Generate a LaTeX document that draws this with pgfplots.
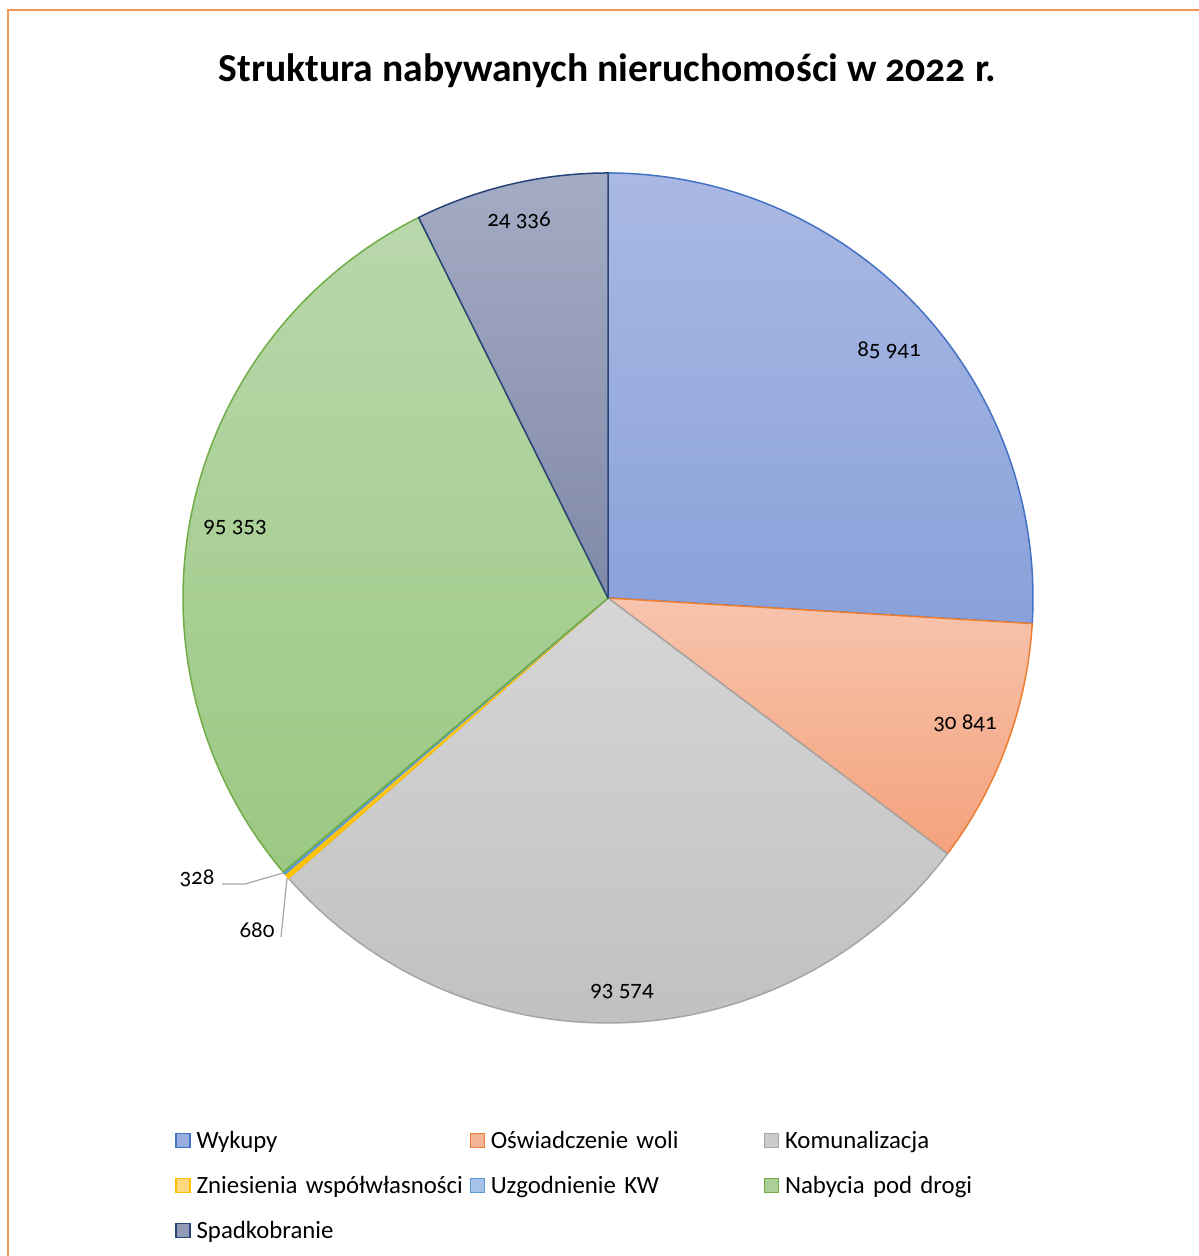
\documentclass[border=0pt]{standalone}
\usepackage{fontspec}
\setmainfont{Carlito}[Numbers=OldStyle]
\usepackage{pgfplots}
\usepackage{pgfplotstable}
\pgfplotsset{compat=1.18}

% values of the pie (in thousands, to stay inside pgfmath range)
\pgfplotstableread[col sep=comma]{
name,value
Wykupy,85.941
Oświadczenie woli,30.841
Komunalizacja,93.574
Zniesienia współwłasności,0.680
Uzgodnienie KW,0.328
Nabycia pod drogi,95.353
Spadkobranie,24.336
}\piedata

\definecolor{topA}{RGB}{170,185,227}\definecolor{botA}{RGB}{137,161,218}\definecolor{edgA}{RGB}{68,114,196}
\definecolor{topB}{RGB}{247,196,174}\definecolor{botB}{RGB}{244,162,124}\definecolor{edgB}{RGB}{237,125,49}
\definecolor{topC}{RGB}{214,214,214}\definecolor{botC}{RGB}{192,192,192}\definecolor{edgC}{RGB}{165,165,165}
\definecolor{topD}{RGB}{255,217,130}\definecolor{botD}{RGB}{255,192,0}\definecolor{edgD}{RGB}{255,192,0}
\definecolor{topE}{RGB}{165,195,233}\definecolor{botE}{RGB}{91,155,213}\definecolor{edgE}{RGB}{91,155,213}
\definecolor{topF}{RGB}{185,215,171}\definecolor{botF}{RGB}{155,200,131}\definecolor{edgF}{RGB}{112,173,71}
\definecolor{topG}{RGB}{164,171,196}\definecolor{botG}{RGB}{128,137,168}\definecolor{edgG}{RGB}{38,68,120}
\definecolor{frame}{RGB}{243,150,82}
\definecolor{leader}{RGB}{166,166,166}

\tikzset{
  slice0/.style={top color=topA,bottom color=botA,draw=edgA},
  slice1/.style={top color=topB,bottom color=botB,draw=edgB},
  slice2/.style={top color=topC,bottom color=botC,draw=edgC},
  slice3/.style={top color=topD,bottom color=botD,draw=edgD},
  slice4/.style={top color=topE,bottom color=botE,draw=edgE},
  slice5/.style={top color=topF,bottom color=botF,draw=edgF},
  slice6/.style={top color=topG,bottom color=botG,draw=edgG},
}

% cumulative angles, clockwise from the top
\def\total{0}
\pgfplotsforeachungrouped \i in {0,...,6}{%
  \pgfplotstablegetelem{\i}{value}\of\piedata
  \pgfmathsetmacro{\total}{\total+\pgfplotsretval}%
}
\def\cum{0}
\pgfplotsforeachungrouped \i in {0,...,6}{%
  \pgfplotstablegetelem{\i}{value}\of\piedata
  \pgfmathsetmacro{\aS}{90-360*(\cum/\total)}%
  \pgfmathsetmacro{\cum}{\cum+\pgfplotsretval}%
  \pgfmathsetmacro{\aE}{90-360*(\cum/\total)}%
  \expandafter\xdef\csname pieS\i\endcsname{\aS}%
  \expandafter\xdef\csname pieE\i\endcsname{\aE}%
}

\newcommand\lbl{\fontsize{11.5}{13}\selectfont}
\newcommand\leg{\fontsize{12.4}{14}\selectfont}

\begin{document}
\begin{tikzpicture}
\begin{axis}[
  scale only axis, width=599pt, height=628pt,
  xmin=0, xmax=1198, ymin=-1256, ymax=0,
  hide axis, clip=false,
  legend columns=3,
  legend image code/.code={\draw[#1,line width=0.6pt] (0pt,0.5pt) rectangle (7pt,7.5pt);},
  legend style={draw=none, fill=none, inner sep=0pt, font=\leg,
    at={(axis cs:175,-1131)}, anchor=north west,
    row sep=10.5pt,
    /tikz/every even column/.style={column sep=0pt},
    /tikz/every odd column/.style={column sep=0pt},
    nodes={text width=133.5pt, align=left, inner xsep=3pt, inner ysep=0pt,
           text height=8.5pt, text depth=3.5pt, anchor=base west}},
]
\pgfplotsinvokeforeach{0,...,6}{
  \path[slice#1, line width=0.75pt, line join=round]
    (axis cs:608,-598) -- ++(\csname pieS#1\endcsname:212.5pt)
    arc[start angle=\csname pieS#1\endcsname, end angle=\csname pieE#1\endcsname, radius=212.5pt]
    -- cycle;
}
% leader lines of the two smallest slices
\addplot[leader, line width=0.6pt, forget plot] coordinates {(222,-884) (245,-884) (283,-873)};
\addplot[leader, line width=0.6pt, forget plot] coordinates {(281,-937) (287,-878)};

\addlegendimage{fill=topA!50!botA, draw=edgA}\addlegendentry{Wykupy}
\addlegendimage{fill=topB!50!botB, draw=edgB}\addlegendentry{Oświadczenie woli}
\addlegendimage{fill=topC!50!botC, draw=edgC}\addlegendentry{Komunalizacja}
\addlegendimage{fill=topD, draw=edgD}\addlegendentry{Zniesienia współwłasności}
\addlegendimage{fill=topE, draw=edgE}\addlegendentry{Uzgodnienie KW}
\addlegendimage{fill=topF!50!botF, draw=edgF}\addlegendentry{Nabycia pod drogi}
\addlegendimage{fill=topG!50!botG, draw=edgG}\addlegendentry{Spadkobranie}

\begin{scope}[every node/.style={font=\lbl, inner sep=0pt}]
\node at (axis cs:889,-350) {85 941};
\node at (axis cs:965,-723) {30 841};
\node at (axis cs:622,-992) {93 574};
\node at (axis cs:235,-528) {95 353};
\node at (axis cs:519,-220) {24 336};
\node at (axis cs:197,-878) {328};
\node at (axis cs:257,-930) {680};
\end{scope}
\node[anchor=base, font=\fontsize{19.8}{23}\selectfont\bfseries, inner sep=0pt] at (axis cs:607.5,-82)
  {Struktura nabywanych nieruchomości w 2022 r.};
\draw[frame, line width=1pt] (axis cs:7.5,-1300) -- (axis cs:7.5,-10.5) -- (axis cs:1300,-10.5);
\end{axis}
\pgfresetboundingbox
\path (0,0) rectangle (599pt,628pt);
\end{tikzpicture}
\end{document}
